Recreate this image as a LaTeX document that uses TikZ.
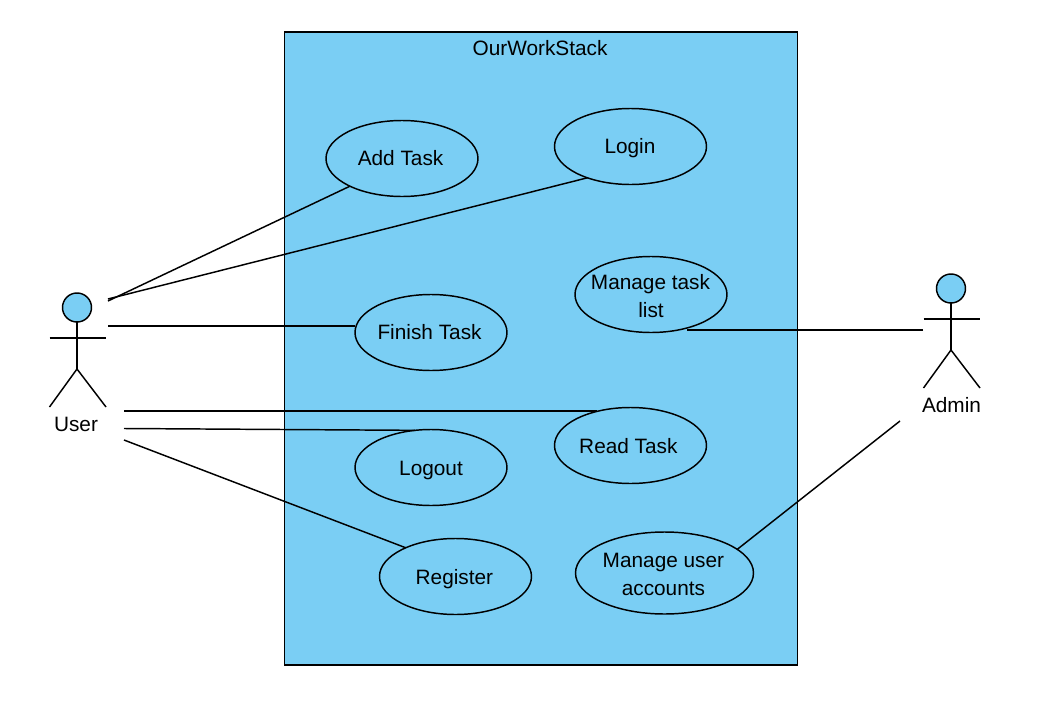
\documentclass[tikz,border=0pt]{standalone}
\usepackage{fontspec}
\setmainfont{Liberation Sans}
\usetikzlibrary{shapes.geometric}
\definecolor{fillblue}{HTML}{7ACEF4}
\newcommand{\tnudge}[3]{\raisebox{#2}[\height][\depth]{\hspace*{#1}#3\hspace*{-#1}}}
\tikzset{
  usecase/.style={draw=black,line width=1.1pt,fill=fillblue,ellipse,inner sep=-14pt,outer sep=0pt,minimum width=114pt,minimum height=57pt,align=center,font=\fontsize{15.6pt}{21pt}\selectfont},
  bigcase/.style={usecase,minimum width=133.5pt,minimum height=61.5pt},
  sysbox/.style={draw=black,line width=1.1pt,fill=fillblue},
  link/.style={draw=black,line width=1.1pt},
  actorhead/.style={circle,draw=black,fill=fillblue,line width=1.1pt,minimum size=21.75pt,inner sep=0pt,outer sep=0pt},
  txt/.style={inner sep=0pt,font=\fontsize{15.6pt}{21pt}\selectfont}
}
\begin{document}
\begin{tikzpicture}[x=0.75pt,y=-0.75pt]
\useasboundingbox (0,0) rectangle (1040,707);
\fill[white] (0,0) rectangle (1040,707);
\node[sysbox,minimum width=384.75pt,minimum height=474.75pt,inner sep=0pt,outer sep=0pt] (sys) at (541,348.5) {};
\node[txt] (title) at (540,48) {OurWorkStack};
\node[usecase] (add) at (402,158.5) {\tnudge{-1.1pt}{0pt}{Add Task}};
\node[usecase] (login) at (630.5,146.5) {\tnudge{-0.4pt}{-1.1pt}{Login}};
\node[usecase] (finish) at (431,332.5) {\tnudge{-1.1pt}{0pt}{Finish Task}};
\node[usecase] (mtl) at (651,294.5) {\tnudge{-0.4pt}{-1.1pt}{Manage task}\\\tnudge{0pt}{-1.1pt}{list}};
\node[usecase] (read) at (630.5,445.5) {\tnudge{-1.6pt}{-0.4pt}{Read Task}};
\node[usecase] (logout) at (431,467.5) {\tnudge{0pt}{-2.6pt}{Logout}};
\node[usecase] (register) at (455.5,576.5) {\tnudge{-0.8pt}{-1.8pt}{Register}};
\node[bigcase] (mua) at (664.5,573) {\tnudge{-0.8pt}{-1.1pt}{Manage user}\\\tnudge{-0.8pt}{-1.1pt}{accounts}};
% User actor
\node[actorhead] (uhead) at (77,307.5) {};
\coordinate (uarml) at (49.5,338);
\coordinate (uarmr) at (106,338);
\coordinate (uhip) at (77,369);
\coordinate (ulegl) at (49.5,407);
\coordinate (ulegr) at (106,407);
\draw[link] (uhead) -- (uhip);
\draw[link] (uarml) -- (uarmr);
\draw[link] (ulegl) -- (uhip) -- (ulegr);
\node[txt] (ulabel) at (76,424) {User};
% Admin actor
\node[actorhead] (ahead) at (951,288.5) {};
\coordinate (aarml) at (923.5,319);
\coordinate (aarmr) at (980,319);
\coordinate (ahip) at (951,350);
\coordinate (alegl) at (923.5,388);
\coordinate (alegr) at (980,388);
\draw[link] (ahead) -- (ahip);
\draw[link] (aarml) -- (aarmr);
\draw[link] (alegl) -- (ahip) -- (alegr);
\node[txt] (alabel) at (951.5,405) {Admin};
% free ends
\coordinate (f1) at (108,301);
\coordinate (f2) at (108,299);
\coordinate (f3) at (108,326);
\coordinate (f4) at (124,411);
\coordinate (f5) at (124,428.5);
\coordinate (f6) at (124,440);
\coordinate (f7) at (923,330);
\coordinate (f8) at (900,421);
\draw[link] (f1) -- (add.208.3);
\draw[link] (f2) -- (login.216.7);
\draw[link] (f3) -- (f3 -| finish.west);
\draw[link] (f4) -- (f4 -| read.135);
\draw[link] (f5) -- (logout.113.3);
\draw[link] (f6) -- (register.150.75);
\draw[link] (f7) -- (f7 -| mtl.-43);
\draw[link] (f8) -- (mua.18.4);
\end{tikzpicture}
\end{document}
